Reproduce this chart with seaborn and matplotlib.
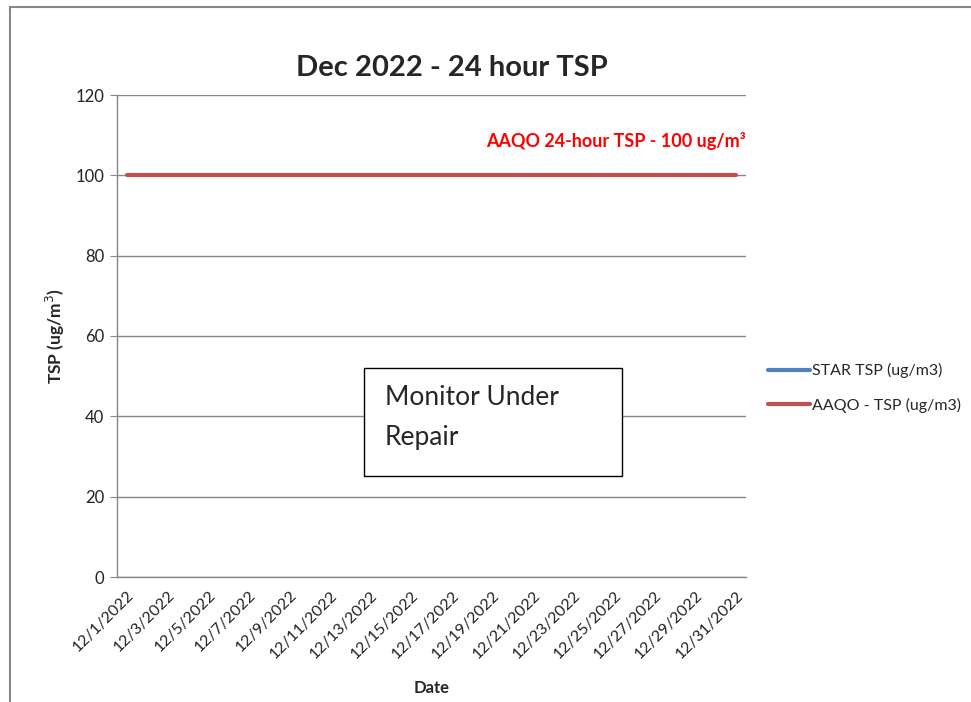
import numpy as np
import pandas as pd
import seaborn as sns
import matplotlib.pyplot as plt
from matplotlib.patches import Rectangle

# data
dates = pd.date_range("2022-12-01", "2022-12-31", freq="D")
date_labels = [f"{d.month}/{d.day}/{d.year}" for d in dates]
star_tsp = [np.nan] * len(dates)          # monitor under repair - no data
aaqo_tsp = [100] * len(dates)

df = pd.DataFrame({"day": np.arange(len(dates)),
                   "STAR TSP (ug/m3)": star_tsp,
                   "AAQO - TSP (ug/m3)": aaqo_tsp})

sns.set_style("white")
plt.rcParams["font.family"] = ["Lato", "DejaVu Sans"]

fig = plt.figure(figsize=(9.71, 7.02), dpi=100)
ax = fig.add_axes([117/971, 1-577/702, 629/971, 482/702])

sns.lineplot(data=df, x="day", y="STAR TSP (ug/m3)", ax=ax, color="#4F81BD",
             linewidth=3, label="STAR TSP (ug/m3)", legend=False)
sns.lineplot(data=df, x="day", y="AAQO - TSP (ug/m3)", ax=ax, color="#C0504D",
             linewidth=3, label="AAQO - TSP (ug/m3)", legend=False)

ax.set_xlim(-0.5, len(dates) - 0.5)
ax.set_ylim(0, 120)
ax.set_yticks(range(0, 121, 20))
ax.yaxis.grid(True, color="#868686", linewidth=1)
ax.set_axisbelow(True)

ax.set_xticks(df["day"][::2])
ax.set_xticklabels(date_labels[::2], rotation=45, ha="right", rotation_mode="anchor",
                   fontsize=11.5, color="#222222")
ax.set_xticks(np.arange(-0.5, len(dates) - 1, 2), minor=True)
ax.tick_params(axis="x", which="major", length=0, pad=8)
ax.tick_params(axis="x", which="minor", length=5, color="#868686", direction="out")
ax.tick_params(axis="y", length=5, color="#868686", direction="out", labelsize=12,
               labelcolor="#222222", pad=4, left=True)

for s in ["top", "right"]:
    ax.spines[s].set_visible(False)
for s in ["left", "bottom"]:
    ax.spines[s].set_color("#868686")
    ax.spines[s].set_linewidth(1)

ax.set_xlabel("")
ax.set_ylabel("TSP (ug/m$^3$)", fontsize=12.5, fontweight="bold", labelpad=6)
fig.text(451.5/971, 1-68/702, "Dec 2022 - 24 hour TSP", fontsize=21, fontweight="bold",
         ha="center", va="center")
fig.text(432/971, 1-688/702, "Date", fontsize=12, fontweight="bold",
         ha="center", va="center")

ax.text(len(dates) - 0.5, 108.5, "AAQO 24-hour TSP - 100 ug/m³", color="#FF0000",
        fontsize=13, fontweight="bold", ha="right", va="center")

# annotation box
ax.add_patch(Rectangle((11.67, 25.1), 12.7, 26.9, facecolor="white",
                       edgecolor="black", linewidth=1, zorder=5))
ax.text(12.7, 39.7, "Monitor Under\nRepair", fontsize=19, va="center", ha="left",
        linespacing=1.75, zorder=6)

fig.legend(loc="upper left", bbox_to_anchor=(754/971, 1-349/702), frameon=False,
           fontsize=11.5, handlelength=2.6, handletextpad=0.1, labelspacing=1.2)

# outer chart border
fig.add_artist(Rectangle((10/971, -0.01), 1.0, 1 - 7/702 + 0.01, transform=fig.transFigure,
                         fill=False, edgecolor="#888888", linewidth=1.5))

fig.savefig("out.png", dpi=100)
